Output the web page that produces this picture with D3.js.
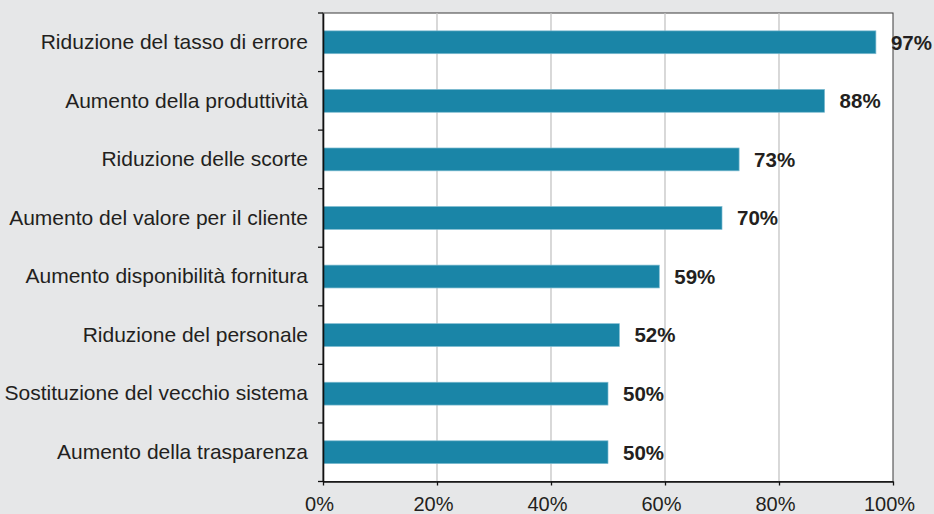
<!DOCTYPE html>
<html>
<head>
<meta charset="utf-8">
<script src="https://cdn.jsdelivr.net/npm/d3@7"></script>
<style>
  html, body { margin: 0; padding: 0; background: #e6e7e8; }
  svg { display: block; font-family: "Liberation Sans", Arial, Helvetica, sans-serif; }
</style>
</head>
<body>
<script>
// data
const categories = [
  "Riduzione del tasso di errore",
  "Aumento della produttività",
  "Riduzione delle scorte",
  "Aumento del valore per il cliente",
  "Aumento disponibilità fornitura",
  "Riduzione del personale",
  "Sostituzione del vecchio sistema",
  "Aumento della trasparenza"
];
const values = [0.97, 0.88, 0.73, 0.70, 0.59, 0.52, 0.50, 0.50];
const xTicks = [0, 0.2, 0.4, 0.6, 0.8, 1.0];

const width = 934, height = 514;
const margin = {top: 13, right: 41, bottom: 32.5, left: 323};
const textColor = "#231f20";
const barColor = "#1a85a7";

const svg = d3.select("body").append("svg")
    .attr("width", width)
    .attr("height", height);

const x = d3.scaleLinear()
    .domain([0, 1])
    .range([margin.left, width - margin.right]);

const y = d3.scaleBand()
    .domain(categories)
    .range([margin.top, height - margin.bottom])
    .paddingInner(0.61)
    .paddingOuter(0.305);

// plot area
svg.append("rect")
    .attr("x", x(0))
    .attr("y", margin.top)
    .attr("width", x(1) - x(0))
    .attr("height", height - margin.bottom - margin.top)
    .attr("fill", "#fff")
    .attr("stroke", "#3a3a3a")
    .attr("stroke-width", 1);

// vertical gridlines
svg.append("g")
  .selectAll("line")
  .data(xTicks.filter(d => d > 0 && d < 1))
  .join("line")
    .attr("x1", d => x(d)).attr("x2", d => x(d))
    .attr("y1", margin.top).attr("y2", height - margin.bottom)
    .attr("stroke", "#c4c4c4")
    .attr("stroke-width", 1.3);

// bars
svg.append("g")
  .selectAll("rect")
  .data(values)
  .join("rect")
    .attr("x", x(0))
    .attr("y", (d, i) => y(categories[i]))
    .attr("width", d => x(d) - x(0))
    .attr("height", y.bandwidth())
    .attr("fill", barColor)
    .attr("stroke", "#7dbbd0")
    .attr("stroke-width", 0.7);

// value labels
svg.append("g")
  .selectAll("text")
  .data(values)
  .join("text")
    .attr("x", d => x(d) + 15)
    .attr("y", (d, i) => y(categories[i]) + y.bandwidth() / 2)
    .attr("dy", "0.36em")
    .attr("font-size", 20.5)
    .attr("font-weight", "bold")
    .attr("fill", textColor)
    .text(d => d3.format(".0%")(d));

// x axis
const xAxis = svg.append("g")
    .attr("transform", `translate(0,${height - margin.bottom})`)
    .call(d3.axisBottom(x)
      .tickValues(xTicks)
      .tickFormat(d3.format(".0%"))
      .tickSize(4)
      .tickPadding(11.5)
      .tickSizeOuter(0));
xAxis.select(".domain").attr("stroke", "#111").attr("stroke-width", 1.6);
xAxis.selectAll(".tick line").attr("stroke", "#111").attr("stroke-width", 1.3);
xAxis.selectAll(".tick text")
    .attr("font-size", 20)
    .attr("font-family", null)
    .attr("dx", -4)
    .attr("fill", textColor);

// y axis: labels at band centres, ticks at band boundaries
const yAxis = svg.append("g")
    .attr("transform", `translate(${margin.left},0)`)
    .call(d3.axisLeft(y).tickSize(0).tickPadding(15).tickSizeOuter(0));
yAxis.select(".domain").attr("stroke", "#111").attr("stroke-width", 1.6);
yAxis.selectAll(".tick text")
    .attr("font-size", 21)
    .attr("font-family", null)
    .attr("fill", textColor);

const bounds = d3.range(categories.length + 1).map(i => margin.top + i * y.step());
yAxis.append("g")
  .selectAll("line")
  .data(bounds)
  .join("line")
    .attr("x1", -5).attr("x2", 0)
    .attr("y1", d => d).attr("y2", d => d)
    .attr("stroke", "#111")
    .attr("stroke-width", 1.3);
</script>
</body>
</html>
